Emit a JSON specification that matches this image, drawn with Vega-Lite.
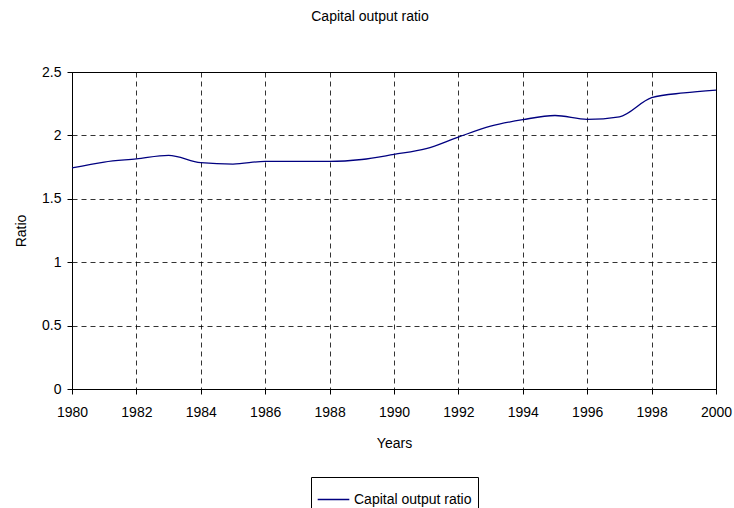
{
  "$schema": "https://vega.github.io/schema/vega-lite/v6.json",
  "width": 644,
  "height": 317,
  "autosize": "none",
  "padding": {"left": 72, "top": 72, "right": 18, "bottom": 119},
  "background": "white",
  "config": {
    "font": "Liberation Sans",
    "view": {"stroke": "black", "strokeWidth": 1}
  },
  "title": {
    "text": "Capital output ratio",
    "fontSize": 14,
    "fontWeight": "normal",
    "color": "black",
    "anchor": "middle",
    "offset": 41,
    "dx": -24
  },
  "data": {
    "values": [
      {"year": 1980, "ratio": 1.743, "series": "Capital output ratio"},
      {"year": 1981, "ratio": 1.790, "series": "Capital output ratio"},
      {"year": 1982, "ratio": 1.815, "series": "Capital output ratio"},
      {"year": 1983, "ratio": 1.842, "series": "Capital output ratio"},
      {"year": 1984, "ratio": 1.785, "series": "Capital output ratio"},
      {"year": 1985, "ratio": 1.774, "series": "Capital output ratio"},
      {"year": 1986, "ratio": 1.795, "series": "Capital output ratio"},
      {"year": 1987, "ratio": 1.795, "series": "Capital output ratio"},
      {"year": 1988, "ratio": 1.795, "series": "Capital output ratio"},
      {"year": 1989, "ratio": 1.810, "series": "Capital output ratio"},
      {"year": 1990, "ratio": 1.850, "series": "Capital output ratio"},
      {"year": 1991, "ratio": 1.895, "series": "Capital output ratio"},
      {"year": 1992, "ratio": 1.987, "series": "Capital output ratio"},
      {"year": 1993, "ratio": 2.073, "series": "Capital output ratio"},
      {"year": 1994, "ratio": 2.124, "series": "Capital output ratio"},
      {"year": 1995, "ratio": 2.157, "series": "Capital output ratio"},
      {"year": 1996, "ratio": 2.126, "series": "Capital output ratio"},
      {"year": 1997, "ratio": 2.146, "series": "Capital output ratio"},
      {"year": 1998, "ratio": 2.297, "series": "Capital output ratio"},
      {"year": 1999, "ratio": 2.335, "series": "Capital output ratio"},
      {"year": 2000, "ratio": 2.357, "series": "Capital output ratio"}
    ]
  },
  "mark": {"type": "line", "interpolate": "monotone", "strokeWidth": 1.3},
  "encoding": {
    "x": {
      "field": "year",
      "type": "quantitative",
      "scale": {"domain": [1980, 2000], "nice": false, "zero": false},
      "axis": {
        "title": "Years",
        "values": [1980, 1982, 1984, 1986, 1988, 1990, 1992, 1994, 1996, 1998, 2000],
        "format": "d",
        "labelFontSize": 14,
        "labelColor": "black",
        "labelPadding": 11,
        "titleFontSize": 14,
        "titleFontWeight": "normal",
        "titleColor": "black",
        "titlePadding": 17,
        "domainColor": "black",
        "tickColor": "black",
        "tickSize": 5,
        "gridColor": "black",
        "gridDash": [5, 4],
        "gridOpacity": 0.8,
        "labelFlush": false
      }
    },
    "y": {
      "field": "ratio",
      "type": "quantitative",
      "scale": {"domain": [0, 2.5], "nice": false},
      "axis": {
        "title": "Ratio",
        "values": [0, 0.5, 1, 1.5, 2, 2.5],
        "format": "~g",
        "labelFontSize": 14,
        "labelColor": "black",
        "labelPadding": 6,
        "titleFontSize": 14,
        "titleFontWeight": "normal",
        "titleColor": "black",
        "titlePadding": 13,
        "domainColor": "black",
        "tickColor": "black",
        "tickSize": 5,
        "gridColor": "black",
        "gridDash": [5, 4],
        "gridOpacity": 0.8
      }
    },
    "color": {
      "field": "series",
      "type": "nominal",
      "scale": {"range": ["#000080"]},
      "legend": {
        "title": null,
        "orient": "none",
        "legendX": 239,
        "legendY": 405,
        "symbolType": "stroke",
        "symbolSize": 1000,
        "symbolStrokeWidth": 1.3,
        "labelFontSize": 14,
        "labelColor": "black",
        "strokeColor": "black",
        "padding": 6,
        "labelOffset": 4
      }
    }
  }
}
